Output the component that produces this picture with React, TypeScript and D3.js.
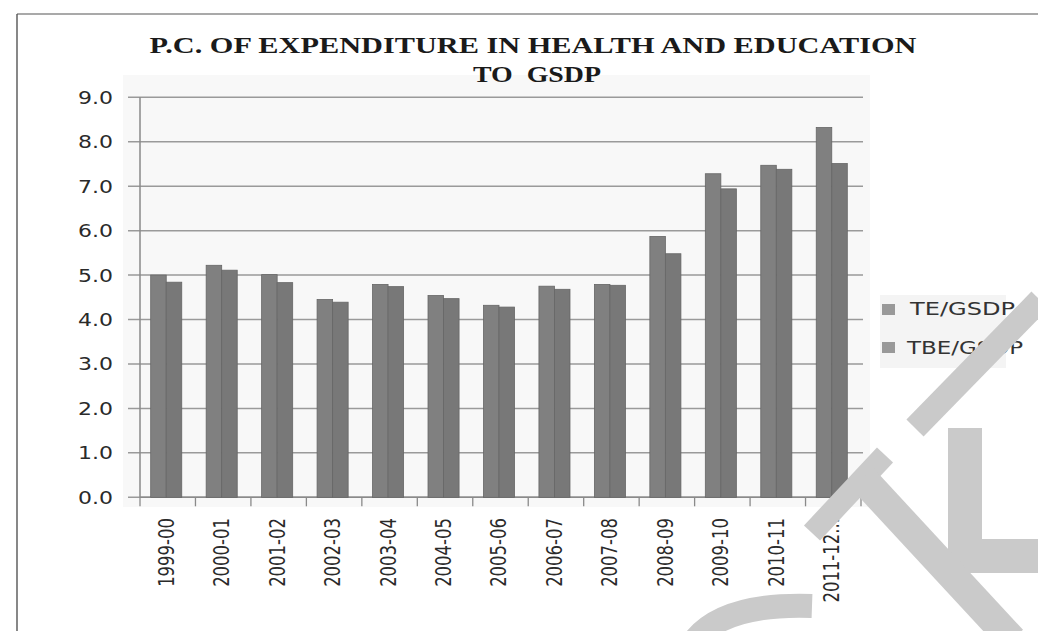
import React from "react";
import * as d3 from "d3";

const categories = ["1999-00","2000-01","2001-02","2002-03","2003-04","2004-05","2005-06","2006-07","2007-08","2008-09","2009-10","2010-11","2011-12..."];
const teGsdp = [5.0, 5.22, 5.01, 4.45, 4.79, 4.54, 4.32, 4.75, 4.79, 5.87, 7.28, 7.47, 8.32];
const tbeGsdp = [4.84, 5.11, 4.83, 4.39, 4.74, 4.47, 4.28, 4.68, 4.77, 5.48, 6.94, 7.38, 7.51];
const seriesNames = ["TE/GSDP", "TBE/GSDP"];
const yTicks = [0, 1, 2, 3, 4, 5, 6, 7, 8, 9];
const titleLines = ["P.C. OF EXPENDITURE IN HEALTH AND EDUCATION", "TO  GSDP"];

const W = 1038, H = 631;
const plot = { left: 140, right: 861, top: 97.3, bottom: 497.3 };
const seriesColors = ["#808080", "#787878"];

export default function App() {
  const x = d3.scaleBand<string>().domain(categories).range([plot.left, plot.right]).paddingInner(0.44).paddingOuter(0.22);
  const xs = d3.scaleBand<string>().domain(seriesNames).range([0, x.bandwidth()]);
  const y = d3.scaleLinear().domain([0, 9]).range([plot.bottom, plot.top]);
  const step = x.step();
  const boundaries = d3.range(categories.length + 1).map((i) => plot.left + i * step);
  const values = [teGsdp, tbeGsdp];

  return (
    <svg width={W} height={H} style={{ position: "absolute", left: 0, top: 0, background: "#fff" }}>
      <rect x={0} y={0} width={W} height={H} fill="#fff" />
      {/* frame */}
      <line x1={17} y1={14} x2={W} y2={14} stroke="#8c8c8c" strokeWidth={1.6} />
      <line x1={17} y1={14} x2={17} y2={H} stroke="#555" strokeWidth={1.4} />
      {/* faint plot background */}
      <rect x={123} y={75} width={747} height={432} fill="#f8f8f8" />
      {/* title */}
      {titleLines.map((t, i) => (
        <text key={t} x={i === 0 ? 533 : 537} y={i === 0 ? 53 : 82} textAnchor="middle"
          fontFamily="'Liberation Serif', 'DejaVu Serif', serif" fontWeight="bold" fontSize={23} fill="#1a1a1a"
          textLength={i === 0 ? 767 : 128} lengthAdjust="spacingAndGlyphs" xmlSpace="preserve">{t}</text>
      ))}
      {/* gridlines */}
      {yTicks.map((t) => (
        <line key={"g" + t} x1={128} x2={863} y1={y(t)} y2={y(t)} stroke="#9a9a9a" strokeWidth={1.5} />
      ))}
      {/* y labels */}
      {yTicks.map((t) => (
        <text key={"yl" + t} x={113} y={y(t) + 6.5} textAnchor="end" fontFamily="'DejaVu Sans', sans-serif"
          fontSize={18} fill="#2a2a2a" textLength={35} lengthAdjust="spacingAndGlyphs">{t.toFixed(1)}</text>
      ))}
      {/* axes */}
      <line x1={plot.left} x2={plot.left} y1={plot.top} y2={plot.bottom} stroke="#8a8a8a" strokeWidth={1.5} />
      <line x1={plot.left} x2={plot.right} y1={plot.bottom} y2={plot.bottom} stroke="#8a8a8a" strokeWidth={1.5} />
      {boundaries.map((b, i) => (
        <line key={"xt" + i} x1={b} x2={b} y1={plot.bottom} y2={plot.bottom + 9} stroke="#8a8a8a" strokeWidth={1.3} />
      ))}
      {/* bars */}
      {categories.map((c, ci) => (
        <g key={c} transform={`translate(${(x(c) as number) - 1.5},0)`}>
          {seriesNames.map((s, si) => {
            const v = values[si][ci];
            return (
              <rect key={s} x={xs(s) as number} y={y(v)} width={xs.bandwidth()} height={y(0) - y(v)}
                fill={seriesColors[si]} stroke="#666" strokeWidth={0.8} />
            );
          })}
        </g>
      ))}
      {/* x labels */}
      {categories.map((c) => {
        const cx = (x(c) as number) + x.bandwidth() / 2 - 1.5;
        return (
          <text key={"xl" + c} transform={`translate(${cx},518) scale(1.25,1) rotate(-90)`} textAnchor="end" dy="0.36em"
            fontFamily="'DejaVu Sans', sans-serif" fontSize={16.5} fill="#2a2a2a">{c}</text>
        );
      })}
      {/* legend */}
      <rect x={880} y={295} width={126} height={73} fill="#f4f4f4" />
      {seriesNames.map((s, i) => (
        <g key={"lg" + s}>
          <rect x={882} y={304 + i * 38} width={13} height={11} fill="#999" />
          <text x={i === 0 ? 910 : 907} y={315 + i * 39} fontFamily="'DejaVu Sans', sans-serif" fontSize={17} fill="#333"
            textLength={i === 0 ? 105 : 116} lengthAdjust="spacingAndGlyphs">{s}</text>
        </g>
      ))}
      {/* watermark strokes from the scan */}
      <g fill="none" stroke="#cacaca" strokeLinecap="butt">
        <path d="M1040,300 L915,428" strokeWidth={24} />
        <path d="M965,428 L965,556 L1040,556" strokeWidth={34} />
        <path d="M885,455 L812,533" strokeWidth={22} />
        <path d="M862,478 L1012,640" strokeWidth={30} />
        <path d="M695,640 Q725,603 812,606" strokeWidth={24} />
      </g>
    </svg>
  );
}
